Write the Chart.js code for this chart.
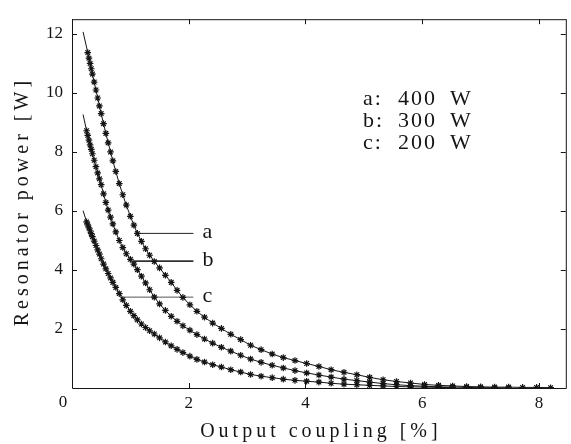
<!DOCTYPE html>
<html lang="en">
<head>
<meta charset="UTF-8">
<title>Resonator power vs output coupling</title>
<style>
  html, body { margin: 0; padding: 0; background: #fff; }
  #chart { display: block; }
</style>
</head>
<body>
<canvas id="chart" width="571" height="444"></canvas>
<script src="https://cdn.jsdelivr.net/npm/chart.js"></script>
<script>
// values: output coupling [%] -> resonator power [W]
// first point of each curve is the bare line lead-in (no marker)
const couplingA = [0.19, 0.27, 0.29, 0.31, 0.33, 0.35, 0.38, 0.41, 0.44, 0.47, 0.50,
  0.54, 0.58, 0.62, 0.66, 0.70, 0.75, 0.81, 0.87, 0.93, 1.00,
  1.06, 1.12, 1.19, 1.26, 1.33, 1.41, 1.50, 1.60, 1.70, 1.80, 1.90,
  2.02, 2.14, 2.27, 2.41, 2.56, 2.72, 2.89, 3.06,
  3.24, 3.43, 3.62, 3.82, 4.02, 4.23, 4.44, 4.66, 4.88, 5.10,
  5.33, 5.56, 5.80, 6.04, 6.28, 6.52, 6.76, 7.00, 7.24, 7.48, 7.72, 7.96, 8.20];
const powerA = [12.07, 11.37, 11.18, 11.00, 10.82, 10.64, 10.37, 10.10, 9.83, 9.56, 9.30,
  8.96, 8.63, 8.31, 8.00, 7.70, 7.34, 6.93, 6.55, 6.20, 5.82,
  5.52, 5.24, 4.97, 4.72, 4.50, 4.29, 4.07, 3.82, 3.58, 3.31, 3.07,
  2.82, 2.60, 2.40, 2.20, 2.02, 1.82, 1.64, 1.45,
  1.30, 1.15, 1.03, 0.93, 0.83, 0.73, 0.62, 0.53, 0.45, 0.36,
  0.28, 0.22, 0.17, 0.12, 0.09, 0.07, 0.05, 0.04, 0.03, 0.03, 0.02, 0.02, 0.01];

const couplingB = [0.19, 0.25, 0.27, 0.29, 0.31, 0.33, 0.35, 0.38, 0.41, 0.44, 0.47, 0.50,
  0.54, 0.58, 0.62, 0.66, 0.70, 0.75, 0.81, 0.87, 0.93, 1.00,
  1.06, 1.12, 1.19, 1.26, 1.33, 1.41, 1.50, 1.60, 1.70, 1.80, 1.90,
  2.02, 2.14, 2.27, 2.41, 2.56, 2.72, 2.89, 3.06,
  3.24, 3.43, 3.62, 3.82, 4.02, 4.23, 4.44, 4.66, 4.88, 5.10,
  5.33, 5.56, 5.80, 6.04, 6.28, 6.52, 6.76, 7.00, 7.24, 7.48];
const powerB = [9.27, 8.72, 8.56, 8.40, 8.24, 8.09, 7.94, 7.72, 7.50, 7.29, 7.09, 6.89,
  6.58, 6.29, 6.03, 5.79, 5.56, 5.29, 5.00, 4.76, 4.55, 4.36,
  4.20, 4.01, 3.79, 3.56, 3.33, 3.08, 2.85, 2.63, 2.43, 2.26, 2.11,
  1.96, 1.81, 1.66, 1.52, 1.38, 1.25, 1.11, 0.98,
  0.87, 0.77, 0.68, 0.59, 0.51, 0.44, 0.37, 0.30, 0.25, 0.20,
  0.15, 0.11, 0.08, 0.06, 0.04, 0.03, 0.02, 0.01, 0.01, 0.00];

const couplingC = [0.19, 0.25, 0.27, 0.29, 0.31, 0.33, 0.35, 0.38, 0.41, 0.44, 0.47, 0.50,
  0.54, 0.58, 0.62, 0.66, 0.70, 0.75, 0.81, 0.87, 0.93, 1.00,
  1.06, 1.12, 1.19, 1.26, 1.33, 1.41, 1.50, 1.60, 1.70, 1.80, 1.90,
  2.02, 2.14, 2.27, 2.41, 2.56, 2.72, 2.89, 3.06,
  3.24, 3.43, 3.62, 3.82, 4.02, 4.23, 4.44, 4.66, 4.88, 5.10,
  5.33, 5.56, 5.80, 6.04, 6.28, 6.52];
const powerC = [6.01, 5.63, 5.53, 5.43, 5.33, 5.23, 5.13, 4.98, 4.83, 4.68, 4.54, 4.38,
  4.20, 4.04, 3.88, 3.73, 3.58, 3.41, 3.20, 2.99, 2.80, 2.60,
  2.45, 2.31, 2.17, 2.05, 1.94, 1.83, 1.70, 1.56, 1.43, 1.31, 1.20,
  1.08, 0.97, 0.88, 0.79, 0.71, 0.62, 0.54, 0.46,
  0.40, 0.35, 0.30, 0.26, 0.23, 0.20, 0.16, 0.13, 0.11, 0.09,
  0.07, 0.05, 0.04, 0.03, 0.02, 0.01];

const curveNames = ['a', 'b', 'c'];
const pumpPowers = [400, 300, 200];
// label leader lines: where they touch the curve, their level, where they end
const leaderStart = [1.12, 1.04, 0.84];
const leaderLevel = [5.24, 4.30, 3.08];
const leaderEnd = [2.08, 2.08, 2.08];

const xTicks = [0, 2, 4, 6, 8];
const yTicks = [2, 4, 6, 8, 10, 12];

const serif = '"Liberation Serif", "DejaVu Serif", serif';
const ink = '#151515';

function toPoints(xs, ys) {
  return xs.map((v, i) => ({ x: v, y: ys[i] }));
}

const curves = [[couplingA, powerA], [couplingB, powerB], [couplingC, powerC]];
const datasets = curves.map(([xs, ys], i) => ({
  label: curveNames[i],
  data: toPoints(xs, ys),
  borderColor: ink,
  borderWidth: 1,
  pointStyle: 'star',
  pointRadius: ctx => ctx.dataIndex === 0 ? 0 : 3.3,
  pointBorderColor: ink,
  pointBorderWidth: 1.2,
  pointBackgroundColor: ink,
  tension: 0
}));

const leaderColors = ['#222', '#333', '#555'];
const leaderWidths = [1, 1.6, 1];
curveNames.forEach((n, i) => {
  datasets.push({
    label: 'leader ' + n,
    data: [{ x: leaderStart[i], y: leaderLevel[i] }, { x: leaderEnd[i], y: leaderLevel[i] }],
    borderColor: leaderColors[i],
    borderWidth: leaderWidths[i],
    pointRadius: 0
  });
});

// frame with inward ticks, axis titles and the text annotations
const decorations = {
  id: 'decorations',
  afterDraw(chart) {
    const { ctx, chartArea: area, scales: { x, y } } = chart;
    ctx.save();
    ctx.strokeStyle = ink;
    ctx.lineWidth = 1;
    ctx.beginPath();
    ctx.moveTo(area.left + 0.5, area.top + 0.5);
    ctx.lineTo(area.right + 0.5, area.top + 0.5);
    ctx.moveTo(area.left + 0.5, area.top);
    ctx.lineTo(area.left + 0.5, area.bottom + 0.5);
    ctx.lineTo(area.right + 0.5, area.bottom + 0.5);
    ctx.lineTo(area.right + 0.5, area.top);
    xTicks.forEach(v => {
      const px = Math.round(x.getPixelForValue(v)) + 0.5;
      ctx.moveTo(px, area.bottom);
      ctx.lineTo(px, area.bottom - 5);
      ctx.moveTo(px, area.top);
      ctx.lineTo(px, area.top + 5);
    });
    yTicks.forEach(v => {
      const py = Math.round(y.getPixelForValue(v)) + 0.5;
      ctx.moveTo(area.left, py);
      ctx.lineTo(area.left + 5, py);
      ctx.moveTo(area.right, py);
      ctx.lineTo(area.right - 5, py);
    });
    ctx.stroke();

    ctx.fillStyle = ink;

    // shared origin label sits left of the corner
    ctx.font = '17px ' + serif;
    ctx.textAlign = 'center';
    ctx.textBaseline = 'middle';
    ctx.fillText('0', area.left - 9, area.bottom + 15);

    ctx.letterSpacing = '4px';
    ctx.font = '20px ' + serif;
    ctx.textBaseline = 'alphabetic';
    ctx.fillText('Output coupling [%]', (area.left + area.right) / 2 + 2, 437);

    ctx.save();
    ctx.translate(28, (area.top + area.bottom) / 2 - 2);
    ctx.rotate(-Math.PI / 2);
    ctx.fillText('Resonator power [W]', 0, 0);
    ctx.restore();

    // curve labels at the end of the leader lines
    ctx.letterSpacing = '0px';
    ctx.font = '22px ' + serif;
    ctx.textAlign = 'left';
    ctx.textBaseline = 'middle';
    curveNames.forEach((n, i) => {
      ctx.fillText(n, x.getPixelForValue(leaderEnd[i]) + 9, y.getPixelForValue(leaderLevel[i]) - 1);
    });

    // pump power key, top right
    ctx.letterSpacing = '2px';
    curveNames.forEach((n, i) => {
      const py = area.top + 80 + i * 22;
      ctx.fillText(n + ':', area.left + 291, py);
      ctx.fillText(String(pumpPowers[i]), area.left + 326, py);
      ctx.fillText('W', area.left + 378, py);
    });
    ctx.restore();
  }
};

new Chart(document.getElementById('chart'), {
  type: 'line',
  data: { datasets },
  options: {
    responsive: false,
    animation: false,
    devicePixelRatio: 1,
    layout: { padding: { top: 11, left: 0, right: 0, bottom: 0 } },
    plugins: { legend: { display: false }, tooltip: { enabled: false } },
    scales: {
      x: {
        type: 'linear',
        min: 0,
        max: 8.46,
        grid: { display: false, drawTicks: false },
        border: { display: false },
        afterBuildTicks: s => { s.ticks = xTicks.map(v => ({ value: v })); },
        afterFit: s => { s.height = 56; },
        ticks: {
          font: { family: serif, size: 17 }, color: ink, padding: 5, maxRotation: 0, autoSkip: false,
          callback: v => v === 0 ? '' : String(v)
        }
      },
      y: {
        type: 'linear',
        min: 0,
        max: 12.5,
        grid: { display: false, drawTicks: false },
        border: { display: false },
        afterBuildTicks: s => { s.ticks = yTicks.map(v => ({ value: v })); },
        afterFit: s => { s.width = 72; },
        ticks: { font: { family: serif, size: 17 }, color: ink, padding: 9, autoSkip: false }
      }
    }
  },
  plugins: [decorations]
});
</script>
</body>
</html>
